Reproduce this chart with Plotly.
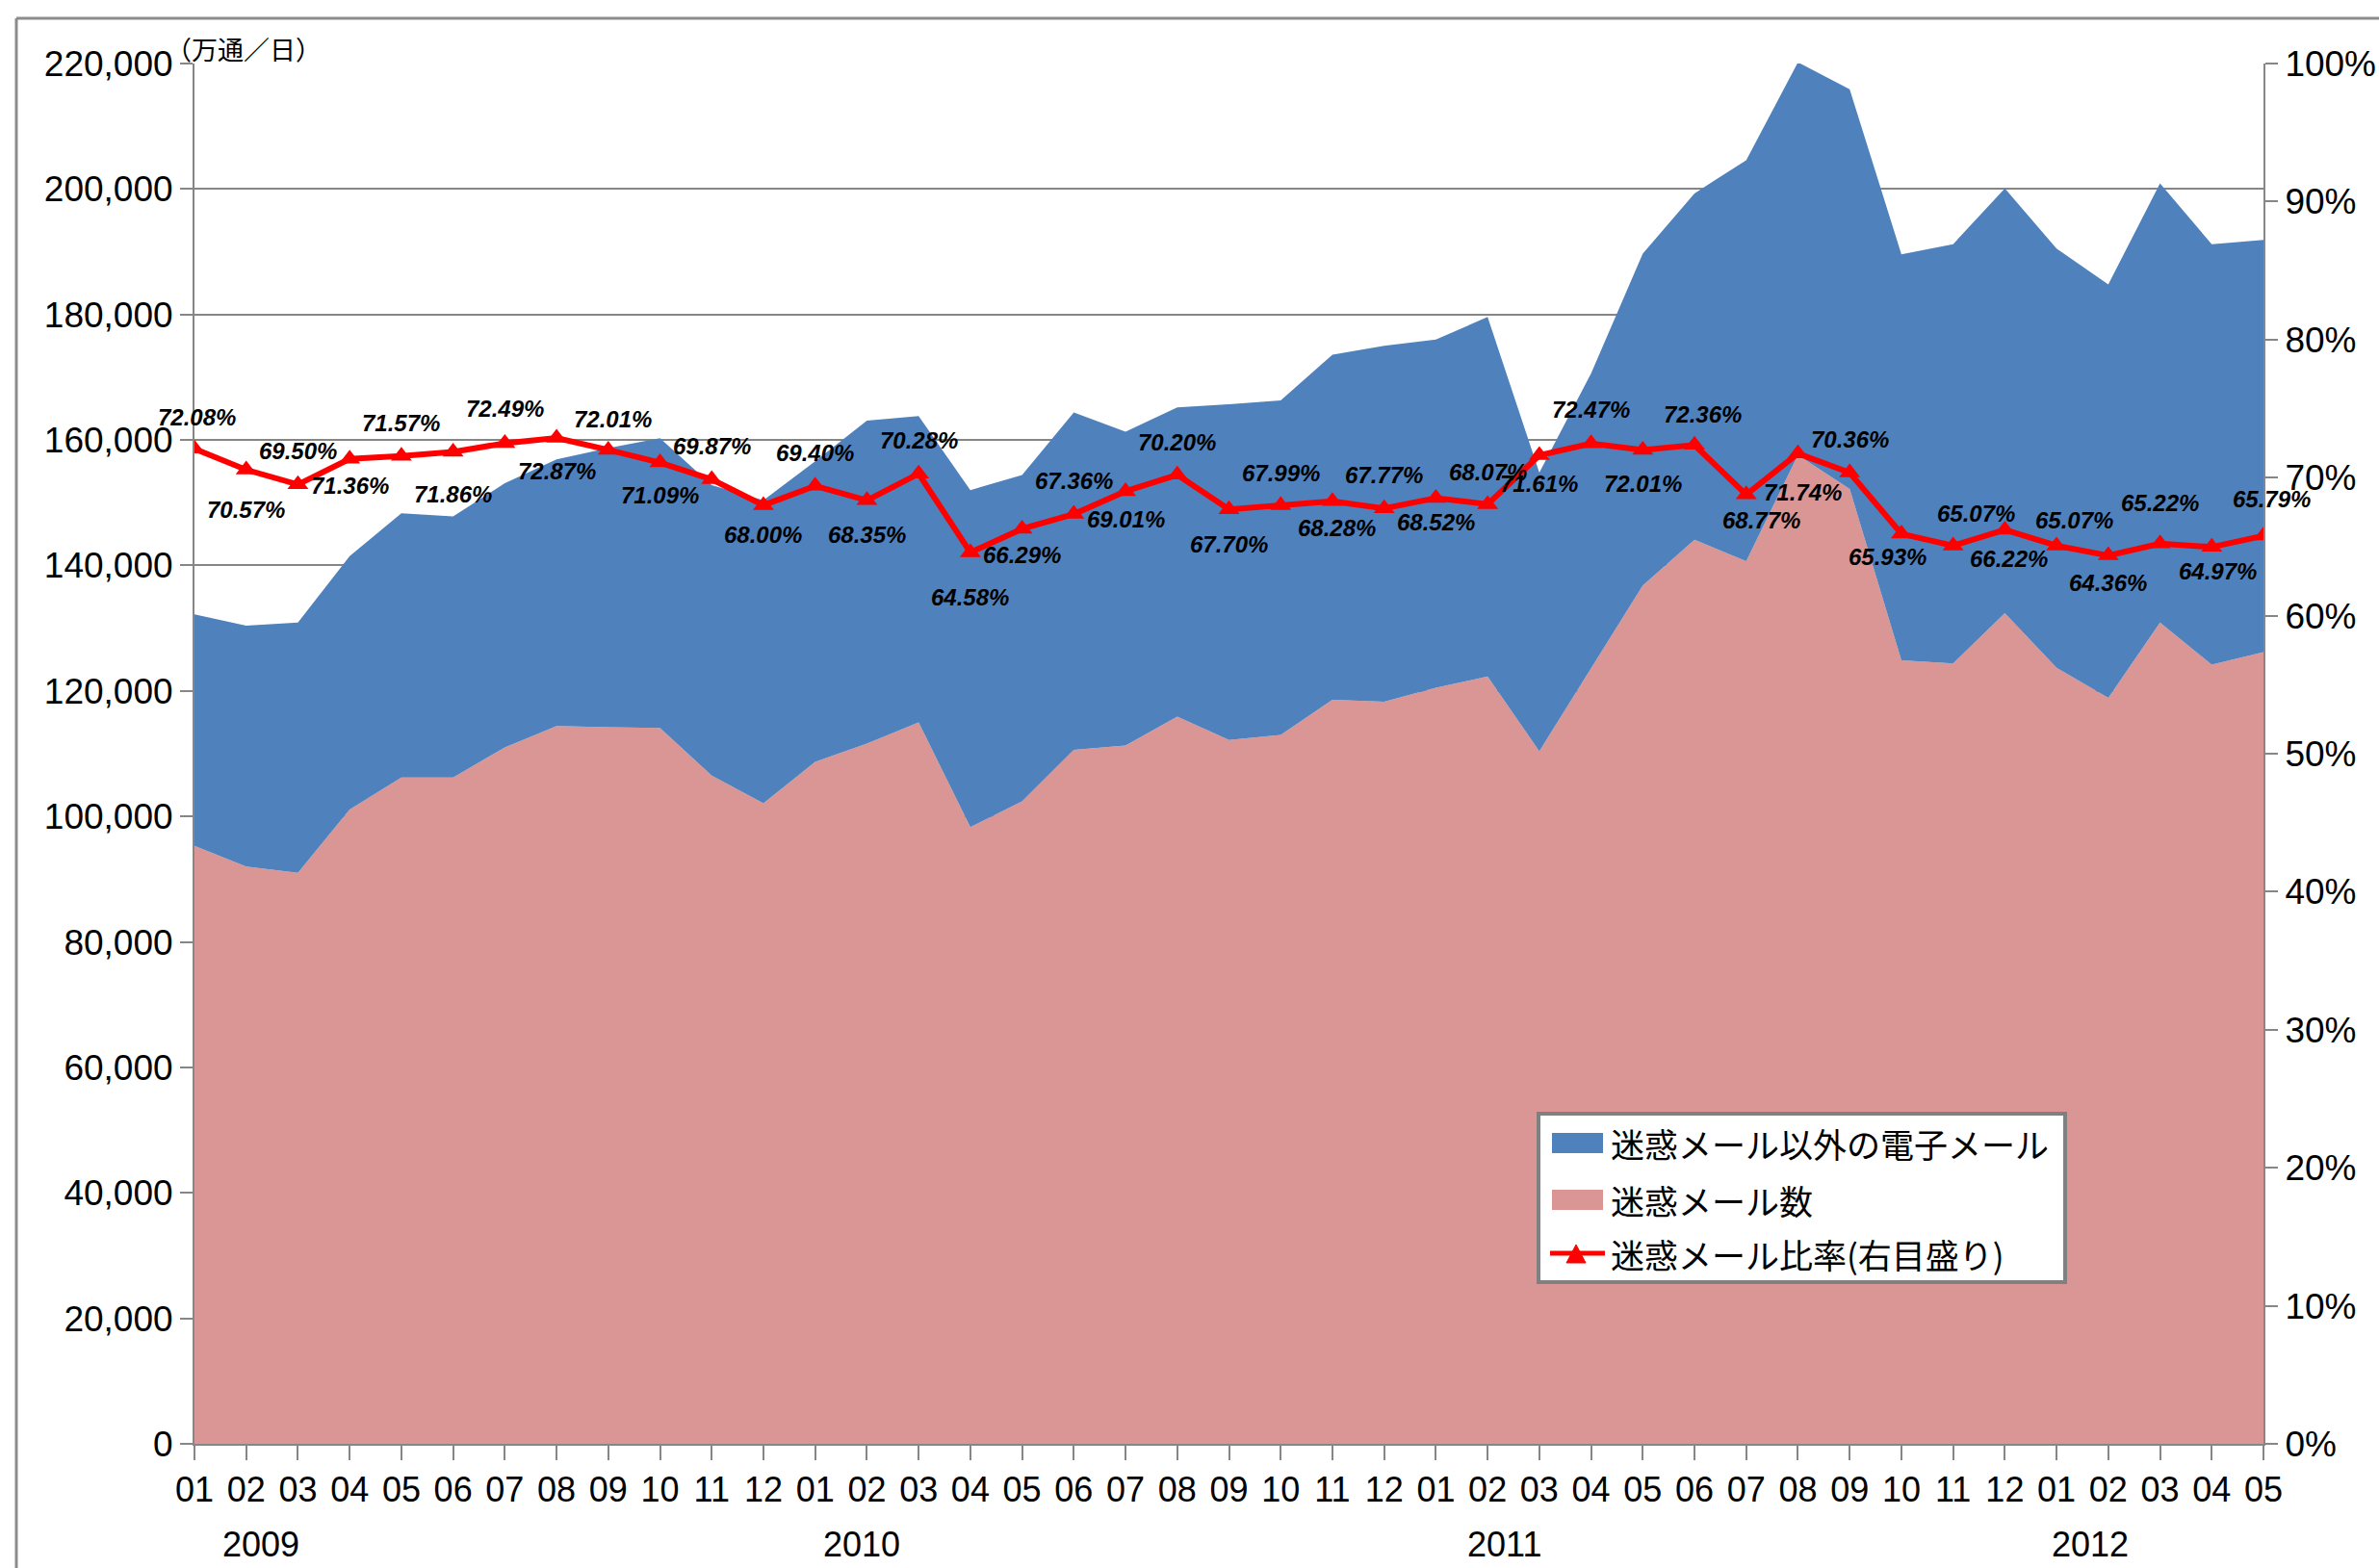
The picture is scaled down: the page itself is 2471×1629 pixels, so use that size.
import plotly.graph_objects as go

# ---------------- data ----------------
months = ["01", "02", "03", "04", "05", "06", "07", "08", "09", "10", "11", "12",
          "01", "02", "03", "04", "05", "06", "07", "08", "09", "10", "11", "12",
          "01", "02", "03", "04", "05", "06", "07", "08", "09", "10", "11", "12",
          "01", "02", "03", "04", "05"]
years = ["2009", "2010", "2011", "2012"]

# spam mail (10k mails / day)
spam = [95300, 92000, 91000, 101100, 106200, 106200, 111000, 114400, 114200, 114100, 106500, 102100,
        108700, 111600, 115000, 98300, 102400, 110600, 111300, 115900, 112200, 113000, 118600, 118300,
        120500, 122300, 110400, 123600, 136800, 144100, 140700, 157600, 152200, 124900, 124400, 132400,
        123700, 118900, 130900, 124200, 126200]
# non-spam mail (10k mails / day)
other = [36900, 38400, 39900, 40400, 42100, 41600, 42100, 42500, 44500, 46200, 46300, 48300,
         47900, 51500, 48800, 53700, 52000, 53800, 50000, 49300, 53500, 53300, 55000, 56700,
         55500, 57300, 44400, 47000, 52900, 55200, 63900, 62600, 63700, 64700, 66800, 67700,
         66800, 65900, 70000, 67000, 65700]
# spam ratio (%)
ratio = [72.08, 70.57, 69.50, 71.36, 71.57, 71.86, 72.49, 72.87, 72.01, 71.09, 69.87, 68.00,
         69.40, 68.35, 70.28, 64.58, 66.29, 67.36, 69.01, 70.20, 67.70, 67.99, 68.28, 67.77,
         68.52, 68.07, 71.61, 72.47, 72.01, 72.36, 68.77, 71.74, 70.36, 65.93, 65.07, 66.22,
         65.07, 64.36, 65.22, 64.97, 65.79]

series_names = ["迷惑メール以外の電子メール", "迷惑メール数", "迷惑メール比率(右目盛り)"]
unit_label = "（万通／日）"

# ---------------- style / layout ----------------
W, H = 2471, 1629
ML, MR, MT, MB = 202, 120, 66, 129
PW, PH = W - ML - MR, H - MT - MB

BLUE = "#4F81BD"
PINK = "#D99694"
RED = "#FF0000"
GRID = "#868686"

# data label offsets in pixels (style only)
lbl_dy = [33, -41, 35, -28, 34, -44, 36, -34, 32, -34, 35, -31,
          34, -36, 35, -47, -27, 35, -29, 34, -36, 34, -28, 35,
          -25, 33, -29, 35, -35, 32, -27, -40, 35, -24, 33, -30,
          26, -28, 42, -25, 38]
lbl_dx = [2, 0, 0, 0, 0, 0, 0, 0, 5, 0, 0, 0,
          0, 0, 0, 0, 0, 0, 0, 0, 0, 0, 5, 0,
          0, 0, 0, 0, 0, 8, 16, 5, 0, -14, 24, 4,
          18, 0, 0, 6, 8]
year_pos = [1.29, 12.89, 25.33, 36.65]


def px(x):
    return (x - ML) / PW


def py(y):
    return (H - MB - y) / PH


idx = list(range(len(months)))

fig = go.Figure()
fig.add_trace(go.Scatter(x=idx, y=spam, name=series_names[1], stackgroup="one", mode="lines",
                         line=dict(width=0, color=PINK), fillcolor=PINK, hoverinfo="skip",
                         showlegend=False))
fig.add_trace(go.Scatter(x=idx, y=other, name=series_names[0], stackgroup="one", mode="lines",
                         line=dict(width=0, color=BLUE), fillcolor=BLUE, hoverinfo="skip",
                         showlegend=False))
fig.add_trace(go.Scatter(x=idx, y=ratio, name=series_names[2], yaxis="y2", mode="lines+markers",
                         line=dict(color=RED, width=6),
                         marker=dict(symbol="triangle-up", size=19, color=RED),
                         hoverinfo="skip", showlegend=False))

annotations = []
lbl_font = dict(family="Liberation Sans, Arial, sans-serif", size=24, color="black",
                weight="bold", style="italic")
for i, r in enumerate(ratio):
    annotations.append(dict(x=i, y=r, xref="x", yref="y2", text=f"{r:.2f}%", showarrow=False,
                            xshift=lbl_dx[i], yshift=lbl_dy[i], font=lbl_font,
                            xanchor="center", yanchor="middle"))

tick_font = dict(family="Liberation Sans, Arial, sans-serif", size=36, color="black")
for yr, xp in zip(years, year_pos):
    annotations.append(dict(x=xp, y=py(1604), xref="x", yref="paper", text=yr, showarrow=False,
                            font=tick_font, xanchor="center", yanchor="middle"))

annotations.append(dict(x=px(253), y=py(51), xref="paper", yref="paper", text=unit_label,
                        showarrow=False, xanchor="center", yanchor="middle",
                        font=dict(family="Noto Sans CJK JP", size=27, color="black")))

# manual legend
leg_font = dict(family="Noto Sans CJK JP", size=35, color="black")
rows_y = [1187, 1246, 1302]
for name, yy in zip(series_names, rows_y):
    annotations.append(dict(x=px(1671), y=py(yy), xref="paper", yref="paper", text=name,
                            showarrow=False, xanchor="left", yanchor="middle", font=leg_font))

shapes = [
    # outer frame (left / top)
    dict(type="line", xref="paper", yref="paper", x0=px(17), y0=py(19), x1=px(W + 20), y1=py(19),
         line=dict(color="#8C8C8C", width=3)),
    dict(type="line", xref="paper", yref="paper", x0=px(17), y0=py(19), x1=px(17), y1=py(H + 20),
         line=dict(color="#8C8C8C", width=3)),
    # legend box
    dict(type="rect", xref="paper", yref="paper", x0=px(1598), y0=py(1332), x1=px(2145), y1=py(1157),
         fillcolor="white", line=dict(color="#808080", width=4), layer="above"),
    dict(type="rect", xref="paper", yref="paper", x0=px(1612), y0=py(1198), x1=px(1665), y1=py(1177),
         fillcolor=BLUE, line=dict(width=0), layer="above"),
    dict(type="rect", xref="paper", yref="paper", x0=px(1612), y0=py(1257), x1=px(1665), y1=py(1236),
         fillcolor=PINK, line=dict(width=0), layer="above"),
    dict(type="line", xref="paper", yref="paper", x0=px(1610), y0=py(1302), x1=px(1667), y1=py(1302),
         line=dict(color=RED, width=5), layer="above"),
    dict(type="path", xref="paper", yref="paper",
         path=f"M {px(1627)},{py(1312)} L {px(1647)},{py(1312)} L {px(1637)},{py(1293)} Z",
         fillcolor=RED, line=dict(color=RED, width=1), layer="above"),
]

fig.update_layout(
    width=W, height=H,
    margin=dict(l=ML, r=MR, t=MT, b=MB, autoexpand=False),
    paper_bgcolor="white", plot_bgcolor="white",
    showlegend=False,
    xaxis=dict(range=[0, len(months) - 1], tickmode="array", tickvals=idx, ticktext=months,
               showgrid=False, zeroline=False, showline=True, linecolor=GRID, linewidth=2,
               ticks="outside", ticklen=15, tickwidth=2, tickcolor=GRID, tickfont=tick_font),
    yaxis=dict(range=[0, 220000], dtick=20000, tickformat=",d", showgrid=True, gridcolor=GRID,
               gridwidth=2, zeroline=False, showline=True, linecolor=GRID, linewidth=2,
               ticks="outside", ticklen=13, tickwidth=2, tickcolor=GRID,
               tickfont=dict(family="Liberation Sans, Arial, sans-serif", size=37, color="black")),
    yaxis2=dict(range=[0, 100], dtick=10, ticksuffix="%", overlaying="y", side="right",
                showgrid=False, zeroline=False, showline=True, linecolor=GRID, linewidth=2,
                ticks="outside", ticklen=13, tickwidth=2, tickcolor=GRID,
                tickfont=dict(family="Liberation Sans, Arial, sans-serif", size=37, color="black")),
    annotations=annotations,
    shapes=shapes,
)

fig.write_html(
    "out.html",
    config={"displayModeBar": False},
    post_script="document.body.style.margin='0';document.body.style.overflow='hidden';"
                "document.documentElement.style.overflow='hidden';",
)
